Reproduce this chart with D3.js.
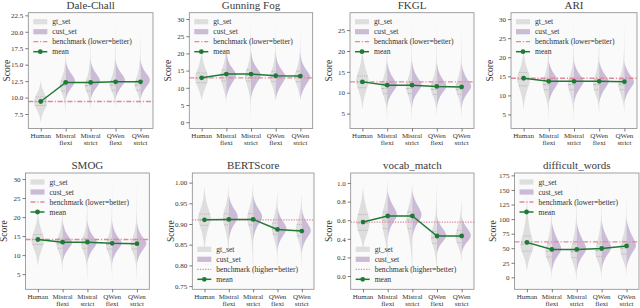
<!DOCTYPE html>
<html>
<head>
<meta charset="utf-8">
<script src="https://cdn.jsdelivr.net/npm/d3@7"></script>
<style>
  body { margin: 0; background: #fff; }
  svg text { font-family: "Liberation Serif", "Times New Roman", serif; font-weight: normal; fill: #333; }
</style>
</head>
<body>
<div id="chart"></div>
<script>
// ---- data ----
var metrics = ["Dale-Chall", "Gunning Fog", "FKGL", "ARI", "SMOG", "BERTScore", "vocab_match", "difficult_words"];
var categories = [["Human"], ["Mistral", "flexi"], ["Mistral", "strict"], ["QWen", "flexi"], ["QWen", "strict"]];

var meanValues = [
  [9.4, 12.3, 12.3, 12.4, 12.4],
  [12.9, 14.0, 14.0, 13.5, 13.4],
  [12.6, 11.8, 11.8, 11.5, 11.4],
  [14.5, 13.7, 13.7, 13.7, 13.6],
  [14.1, 13.4, 13.4, 13.1, 13.0],
  [0.910, 0.911, 0.911, 0.887, 0.883],
  [0.58, 0.645, 0.645, 0.43, 0.43],
  [60, 48, 48, 49.5, 54]
];
var benchmarkValues = [9.4, 12.9, 12.6, 14.5, 14.1, 0.910, 0.58, 61];
var benchmarkLabels = ["lower=better", "lower=better", "lower=better", "lower=better", "lower=better",
  "higher=better", "higher=better", "lower=better"];

var yTicks = [
  [7.5, 10, 12.5, 15, 17.5, 20, 22.5],
  [0, 5, 10, 15, 20, 25, 30],
  [5, 10, 15, 20, 25],
  [5, 10, 15, 20, 25, 30],
  [5, 10, 15, 20, 25, 30],
  [0.75, 0.80, 0.85, 0.90, 0.95, 1.00],
  [0.0, 0.2, 0.4, 0.6, 0.8, 1.0],
  [0, 25, 50, 75, 100, 125, 150, 175]
];
var tickFormats = [".1f", "d", "d", "d", "d", ".2f", ".1f", "d"];

// gt_set violin profiles: [score, half width in category units], bottom to top
var gtShapes = [
  [ // Dale-Chall
    [[6.1,0],[7.0,0.03],[8.0,0.12],[8.8,0.25],[9.4,0.28],[10.2,0.22],[11.0,0.1],[11.8,0.03],[12.6,0]],
    [[7.8,0],[9.0,0.03],[10.3,0.1],[11.2,0.22],[12.0,0.26],[12.8,0.18],[14.0,0.06],[15.5,0.02],[17.5,0.008],[19.0,0]],
    [[8.2,0],[9.2,0.03],[10.4,0.1],[11.3,0.22],[12.0,0.26],[12.8,0.17],[14.0,0.06],[16.0,0.02],[18.5,0.006],[20.5,0]],
    [[8.5,0],[9.5,0.03],[10.6,0.1],[11.4,0.22],[12.1,0.26],[12.9,0.17],[14.2,0.06],[16.0,0.02],[19.0,0.006],[22.1,0]],
    [[8.5,0],[9.5,0.03],[10.6,0.1],[11.4,0.22],[12.1,0.26],[12.9,0.17],[14.2,0.06],[16.0,0.02],[18.5,0.006],[21.0,0]]
  ],
  [ // Gunning Fog
    [[6.4,0],[8,0.04],[10,0.15],[12,0.26],[13,0.28],[14.5,0.22],[16.5,0.1],[18.5,0.04],[21,0]],
    [[5.2,0],[7.5,0.03],[10,0.12],[12.5,0.24],[13.8,0.26],[15.5,0.17],[17.5,0.07],[20,0.02],[23,0.008],[26.5,0]],
    [[-0.3,0],[3,0.005],[6,0.02],[9,0.08],[12,0.22],[13.8,0.26],[15.5,0.17],[17.5,0.07],[20,0.025],[24,0.008],[30.3,0]],
    [[6,0],[8,0.03],[10.5,0.13],[12.5,0.24],[13.5,0.26],[15,0.17],[17,0.07],[20,0.02],[25,0.006],[30,0]],
    [[6.4,0],[8,0.03],[10.5,0.13],[12.5,0.24],[13.4,0.26],[15,0.17],[17,0.07],[20,0.02],[24,0.006],[28.5,0]]
  ],
  [ // FKGL
    [[5.8,0],[8,0.03],[10,0.12],[12,0.24],[13,0.27],[14.5,0.2],[16.5,0.08],[18.5,0.03],[20.5,0]],
    [[2.7,0],[5,0.01],[7.5,0.05],[9.5,0.16],[11,0.26],[12,0.25],[13.5,0.15],[15.5,0.06],[18,0.02],[22,0]],
    [[2.7,0],[5,0.01],[7.5,0.05],[9.5,0.16],[11,0.26],[12,0.25],[13.5,0.15],[15.5,0.06],[18,0.02],[22,0.007],[27.5,0]],
    [[4.2,0],[6,0.02],[8,0.07],[9.5,0.17],[10.8,0.26],[12,0.24],[13.5,0.14],[15.5,0.05],[18,0.02],[22,0.006],[27.5,0]],
    [[3.5,0],[6,0.02],[8,0.07],[9.5,0.17],[10.8,0.26],[12,0.24],[13.5,0.14],[15.5,0.05],[18,0.02],[22,0.006],[27.9,0]]
  ],
  [ // ARI
    [[6,0],[8.5,0.03],[11,0.12],[13.5,0.25],[14.5,0.27],[16,0.2],[18,0.08],[20,0.03],[22,0]],
    [[2.7,0],[5.5,0.01],[8,0.05],[10.5,0.16],[12.5,0.26],[13.8,0.24],[15.5,0.14],[17.5,0.06],[20.5,0.02],[27,0]],
    [[3,0],[5.5,0.01],[8,0.05],[10.5,0.16],[12.5,0.26],[13.8,0.24],[15.5,0.14],[17.5,0.06],[20.5,0.02],[24,0.006],[30.3,0]],
    [[5,0],[7,0.02],[9,0.07],[10.8,0.17],[12.5,0.26],[13.8,0.24],[15.5,0.14],[17.5,0.06],[20.5,0.02],[24,0.006],[29,0]],
    [[5.5,0],[7,0.02],[9,0.07],[10.8,0.17],[12.5,0.26],[13.8,0.24],[15.5,0.14],[17.5,0.06],[20.5,0.02],[24,0.006],[30,0]]
  ],
  [ // SMOG
    [[7,0],[9.5,0.04],[12,0.18],[13.5,0.27],[14.5,0.26],[16,0.17],[18,0.07],[20,0.02],[22,0]],
    [[5,0],[7.5,0.02],[10,0.1],[11.8,0.22],[13,0.27],[14.3,0.22],[16,0.1],[18.5,0.03],[22,0.008],[27,0]],
    [[2.4,0],[5,0.01],[7.5,0.03],[10,0.1],[11.8,0.22],[13,0.27],[14.3,0.22],[16,0.1],[18.5,0.03],[23,0.006],[29,0]],
    [[3,0],[5.5,0.01],[8,0.04],[10,0.12],[11.6,0.23],[12.8,0.27],[14,0.21],[16,0.09],[18.5,0.03],[23,0.006],[30.2,0]],
    [[2.4,0],[5,0.01],[8,0.04],[10,0.12],[11.6,0.23],[12.8,0.27],[14,0.21],[16,0.09],[18.5,0.03],[23,0.006],[30,0]]
  ],
  [ // BERTScore
    [[0.83,0],[0.86,0.03],[0.885,0.12],[0.905,0.25],[0.915,0.28],[0.93,0.2],[0.95,0.08],[0.97,0.03],[0.99,0]],
    [[0.80,0],[0.84,0.02],[0.87,0.07],[0.895,0.18],[0.91,0.26],[0.925,0.23],[0.945,0.12],[0.965,0.04],[0.985,0.01],[1.0,0]],
    [[0.755,0],[0.80,0.01],[0.84,0.03],[0.87,0.08],[0.895,0.18],[0.91,0.26],[0.925,0.23],[0.945,0.12],[0.965,0.04],[0.99,0.01],[1.0105,0]],
    [[0.80,0],[0.83,0.02],[0.855,0.08],[0.875,0.2],[0.89,0.26],[0.905,0.22],[0.925,0.1],[0.95,0.03],[0.985,0]],
    [[0.79,0],[0.825,0.02],[0.85,0.08],[0.87,0.2],[0.885,0.26],[0.90,0.22],[0.92,0.1],[0.945,0.03],[0.975,0]]
  ],
  [ // vocab_match
    [[0.28,0],[0.38,0.05],[0.48,0.2],[0.56,0.28],[0.64,0.24],[0.72,0.14],[0.82,0.05],[0.95,0]],
    [[0.1,0],[0.25,0.02],[0.4,0.1],[0.52,0.22],[0.62,0.26],[0.72,0.18],[0.82,0.07],[0.92,0.02],[1.05,0]],
    [[-0.086,0],[0.1,0.01],[0.3,0.05],[0.45,0.15],[0.55,0.24],[0.63,0.26],[0.72,0.18],[0.82,0.07],[0.92,0.02],[1.02,0]],
    [[0.0,0],[0.15,0.02],[0.28,0.1],[0.36,0.22],[0.42,0.27],[0.5,0.2],[0.6,0.08],[0.75,0.02],[1.03,0]],
    [[0.15,0],[0.25,0.04],[0.32,0.14],[0.38,0.24],[0.43,0.27],[0.5,0.2],[0.6,0.08],[0.72,0.02],[0.85,0]]
  ],
  [ // difficult_words
    [[10,0],[25,0.04],[40,0.17],[52,0.28],[62,0.25],[75,0.15],[95,0.06],[115,0.02],[140,0]],
    [[-5,0],[10,0.02],[25,0.12],[35,0.24],[45,0.27],[58,0.2],[75,0.08],[100,0.02],[125,0.006],[150,0]],
    [[-11.4,0],[5,0.02],[20,0.1],[33,0.23],[44,0.27],[57,0.2],[75,0.08],[100,0.02],[135,0.005],[170,0]],
    [[-5,0],[10,0.02],[25,0.12],[36,0.24],[46,0.27],[58,0.2],[75,0.08],[100,0.02],[125,0.006],[150,0]],
    [[0,0],[15,0.02],[28,0.12],[40,0.24],[50,0.27],[62,0.2],[78,0.08],[100,0.02],[125,0.006],[145,0]]
  ]
];

// gt_set quartile lines [q1, median, q3]
var gtQuartiles = [
  [[8.8,9.4,10.1],[11.0,11.8,12.5],[11.0,11.8,12.5],[11.1,11.9,12.6],[11.1,11.9,12.6]],
  [[11.5,12.8,14.3],[12.0,13.6,15.2],[12.0,13.6,15.2],[11.8,13.2,14.8],[11.8,13.2,14.8]],
  [[11.2,12.6,14.0],[9.8,11.0,12.3],[9.8,11.0,12.3],[9.6,10.8,12.1],[9.6,10.8,12.1]],
  [[12.5,14.3,16.0],[11.5,12.8,14.2],[11.5,12.8,14.2],[11.5,12.8,14.2],[11.5,12.8,14.2]],
  [[12.8,14.1,15.4],[11.8,13.0,14.3],[11.8,13.0,14.3],[11.6,12.8,14.0],[11.6,12.8,14.0]],
  [[0.897,0.91,0.924],[0.898,0.912,0.925],[0.898,0.912,0.925],[0.875,0.888,0.902],[0.871,0.885,0.899]],
  [[0.49,0.57,0.66],[0.51,0.6,0.69],[0.51,0.6,0.69],[0.35,0.41,0.48],[0.36,0.42,0.49]],
  [[45,57,71],[35,45,58],[34,44,57],[36,46,58],[40,50,62]]
];

// cust_set half violins for the four model columns
var custShapes = [
  [
    [[9.6,0],[10.6,0.06],[11.5,0.22],[12.4,0.42],[13.2,0.32],[14.1,0.12],[15,0.03],[15.8,0]],
    [[9.6,0],[10.6,0.06],[11.5,0.22],[12.4,0.42],[13.2,0.32],[14.1,0.12],[15,0.03],[15.8,0]],
    [[9.7,0],[10.7,0.06],[11.6,0.22],[12.5,0.42],[13.3,0.32],[14.2,0.12],[15.1,0.03],[15.9,0]],
    [[9.7,0],[10.7,0.06],[11.6,0.22],[12.5,0.42],[13.3,0.32],[14.2,0.12],[15.1,0.03],[15.9,0]]
  ],
  [
    [[7,0],[9,0.05],[11,0.2],[13,0.38],[14,0.42],[15.5,0.26],[17.5,0.08],[19.5,0.02],[21,0]],
    [[7,0],[9,0.05],[11,0.2],[13,0.38],[14,0.42],[15.5,0.26],[17.5,0.08],[19.5,0.02],[21,0]],
    [[6.5,0],[8.5,0.05],[10.5,0.2],[12.5,0.38],[13.5,0.42],[15,0.26],[17,0.08],[19,0.02],[20.5,0]],
    [[6.5,0],[8.5,0.05],[10.5,0.2],[12.5,0.38],[13.4,0.42],[15,0.26],[17,0.08],[19,0.02],[20.5,0]]
  ],
  [
    [[6.5,0],[8.5,0.05],[10,0.2],[11.6,0.42],[12.6,0.36],[14,0.18],[15.5,0.06],[17.5,0]],
    [[6.5,0],[8.5,0.05],[10,0.2],[11.6,0.42],[12.6,0.36],[14,0.18],[15.5,0.06],[17.5,0]],
    [[6.3,0],[8.3,0.05],[9.8,0.2],[11.3,0.42],[12.3,0.36],[13.7,0.18],[15.2,0.06],[17.2,0]],
    [[6.2,0],[8.2,0.05],[9.7,0.2],[11.2,0.42],[12.2,0.36],[13.6,0.18],[15.1,0.06],[17.1,0]]
  ],
  [
    [[8,0],[10,0.06],[12,0.25],[13.5,0.42],[14.5,0.34],[16,0.16],[17.5,0.05],[19,0]],
    [[8,0],[10,0.06],[12,0.25],[13.5,0.42],[14.5,0.34],[16,0.16],[17.5,0.05],[19,0]],
    [[8,0],[10,0.06],[12,0.25],[13.5,0.42],[14.5,0.34],[16,0.16],[17.5,0.05],[19,0]],
    [[8,0],[10,0.06],[12,0.25],[13.4,0.42],[14.4,0.34],[15.9,0.16],[17.4,0.05],[18.9,0]]
  ],
  [
    [[8,0],[10,0.06],[11.8,0.25],[13.2,0.42],[14.2,0.34],[15.5,0.16],[17.2,0.05],[19,0]],
    [[8,0],[10,0.06],[11.8,0.25],[13.2,0.42],[14.2,0.34],[15.5,0.16],[17.2,0.05],[19,0]],
    [[7.8,0],[9.8,0.06],[11.6,0.25],[13,0.42],[14,0.34],[15.3,0.16],[17,0.05],[18.8,0]],
    [[7.7,0],[9.7,0.06],[11.5,0.25],[12.9,0.42],[13.9,0.34],[15.2,0.16],[16.9,0.05],[18.7,0]]
  ],
  [
    [[0.86,0],[0.88,0.05],[0.90,0.22],[0.915,0.42],[0.93,0.3],[0.945,0.12],[0.96,0.03],[0.97,0]],
    [[0.86,0],[0.88,0.05],[0.90,0.22],[0.915,0.42],[0.93,0.3],[0.945,0.12],[0.96,0.03],[0.97,0]],
    [[0.835,0],[0.855,0.05],[0.872,0.22],[0.887,0.42],[0.90,0.3],[0.915,0.12],[0.93,0.03],[0.942,0]],
    [[0.83,0],[0.85,0.05],[0.868,0.22],[0.883,0.42],[0.896,0.3],[0.911,0.12],[0.926,0.03],[0.938,0]]
  ],
  [
    [[0.4,0],[0.5,0.06],[0.58,0.24],[0.65,0.42],[0.72,0.3],[0.8,0.12],[0.87,0.03],[0.92,0]],
    [[0.4,0],[0.5,0.06],[0.58,0.24],[0.65,0.42],[0.72,0.3],[0.8,0.12],[0.87,0.03],[0.92,0]],
    [[0.24,0],[0.31,0.06],[0.37,0.24],[0.43,0.42],[0.49,0.3],[0.55,0.12],[0.6,0.03],[0.64,0]],
    [[0.24,0],[0.31,0.06],[0.37,0.24],[0.43,0.42],[0.49,0.3],[0.55,0.12],[0.6,0.03],[0.64,0]]
  ],
  [
    [[10,0],[25,0.06],[38,0.25],[48,0.42],[58,0.32],[72,0.14],[85,0.04],[95,0]],
    [[10,0],[25,0.06],[38,0.25],[48,0.42],[58,0.32],[72,0.14],[85,0.04],[95,0]],
    [[12,0],[27,0.06],[40,0.25],[50,0.42],[60,0.32],[74,0.14],[87,0.04],[97,0]],
    [[15,0],[30,0.06],[44,0.25],[54,0.42],[64,0.32],[78,0.14],[91,0.04],[101,0]]
  ]
];

// ---- layout ----
var W = 640, H = 308;
var frames = [ // [left, right] of each plot area
  [28.3, 153], [189.3, 312.7], [350, 474], [511, 637],
  [25.5, 149.3], [192.3, 314], [350.7, 474], [514.5, 639]
];
var rowTop = [12.7, 173], rowBottom = [128.5, 289.3];
var legendAtBottom = [false, false, false, false, false, true, true, false];

var svg = d3.select("#chart").append("svg")
  .attr("width", W).attr("height", H);

var gtColor = "#d4d4d4", custColor = "#b7a0c8";
var meanColor = "#1f7a35", benchColor = "#e3889c";

function widthAt(profile, v) { // linear lookup of a profile's half width
  for (var i = 1; i < profile.length; i++) {
    if (v <= profile[i][0]) {
      var a = profile[i - 1], b = profile[i];
      var t = (v - a[0]) / (b[0] - a[0]);
      return a[1] + t * (b[1] - a[1]);
    }
  }
  return 0;
}

metrics.forEach(function (metric, m) {
  var row = m < 4 ? 0 : 1;
  var left = frames[m][0], right = frames[m][1];
  var top = rowTop[row], bottom = rowBottom[row];
  var pw = right - left, ph = bottom - top;

  var g = svg.append("g").attr("transform", "translate(" + left + "," + top + ")");

  var x = d3.scaleLinear().domain([-0.5, 4.5]).range([0, pw]);
  var unit = x(1) - x(0);

  // y limits like matplotlib autoscale: data extent plus 5% margins
  var allVals = [];
  gtShapes[m].forEach(function (p) { p.forEach(function (d) { allVals.push(d[0]); }); });
  custShapes[m].forEach(function (p) { p.forEach(function (d) { allVals.push(d[0]); }); });
  var ext = d3.extent(allVals), pad = (ext[1] - ext[0]) * 0.05;
  var y = d3.scaleLinear().domain([ext[0] - pad, ext[1] + pad]).range([ph, 0]);

  g.append("rect").attr("width", pw).attr("height", ph).attr("fill", "#fafafa");

  // gt_set violins (Human full, others left half)
  gtShapes[m].forEach(function (profile, c) {
    var cx = x(c);
    var area = d3.area()
      .curve(d3.curveBasis)
      .y(function (d) { return y(d[0]); })
      .x0(function (d) { return c == 0 ? cx + d[1] * unit : cx; })
      .x1(function (d) { return cx - d[1] * unit; });
    g.append("path").datum(profile).attr("d", area)
      .attr("fill", gtColor).attr("fill-opacity", 0.75);

    gtQuartiles[m][c].forEach(function (q, qi) {
      var w = widthAt(profile, q) * unit * 0.9;
      g.append("line")
        .attr("x1", cx - w).attr("x2", c == 0 ? cx + w : cx)
        .attr("y1", y(q)).attr("y2", y(q))
        .attr("stroke", "#a8a8a8").attr("stroke-width", 0.7)
        .attr("stroke-dasharray", qi == 1 ? "3,1.2" : "1.2,1");
    });
  });

  // cust_set violins (right halves)
  custShapes[m].forEach(function (profile, k) {
    var cx = x(k + 1);
    var area = d3.area()
      .curve(d3.curveBasis)
      .y(function (d) { return y(d[0]); })
      .x0(cx)
      .x1(function (d) { return cx + d[1] * unit; });
    g.append("path").datum(profile).attr("d", area)
      .attr("fill", custColor).attr("fill-opacity", 0.7);
  });

  // benchmark
  var dash = benchmarkLabels[m] == "lower=better" ? "5,1.8,1.2,1.8" : "1.3,1.3";
  g.append("line")
    .attr("x1", 0).attr("x2", pw)
    .attr("y1", y(benchmarkValues[m])).attr("y2", y(benchmarkValues[m]))
    .attr("stroke", benchColor).attr("stroke-width", 1.3)
    .attr("stroke-dasharray", dash);

  // mean line
  var line = d3.line()
    .x(function (d, i) { return x(i); })
    .y(function (d) { return y(d); });
  g.append("path").datum(meanValues[m]).attr("d", line)
    .attr("fill", "none").attr("stroke", meanColor).attr("stroke-width", 1.5);
  g.selectAll(".pt").data(meanValues[m]).enter().append("circle")
    .attr("cx", function (d, i) { return x(i); })
    .attr("cy", function (d) { return y(d); })
    .attr("r", 2.4).attr("fill", meanColor);

  // frame
  g.append("rect").attr("width", pw).attr("height", ph)
    .attr("fill", "none").attr("stroke", "#8a8a8a").attr("stroke-width", 0.8);

  // y axis
  var yAxis = d3.axisLeft(y).tickValues(yTicks[m]).tickFormat(d3.format(tickFormats[m]))
    .tickSize(3).tickPadding(2);
  var ya = g.append("g").call(yAxis);
  ya.select(".domain").remove();
  ya.selectAll("line").attr("stroke", "#444").attr("stroke-width", 0.7);
  ya.selectAll("text").style("font-size", "7px");

  // x axis
  var xAxis = d3.axisBottom(x).tickValues([0, 1, 2, 3, 4]).tickFormat("").tickSize(3);
  var xa = g.append("g").attr("transform", "translate(0," + ph + ")").call(xAxis);
  xa.select(".domain").remove();
  xa.selectAll("line").attr("stroke", "#444").attr("stroke-width", 0.7);
  categories.forEach(function (lines, c) {
    var t = g.append("text").attr("x", x(c)).attr("y", ph + 9.6)
      .attr("text-anchor", "middle").style("font-size", "7px");
    lines.forEach(function (s, li) {
      t.append("tspan").attr("x", x(c)).attr("dy", li == 0 ? 0 : 7.2).text(s);
    });
  });

  // title and y label
  g.append("text").attr("x", pw / 2).attr("y", -4)
    .attr("text-anchor", "middle").style("font-size", "11px").style("fill", "#3a3a3a").text(metric);
  g.append("text")
    .attr("transform", "translate(" + (-18.5) + "," + (ph / 2) + ") rotate(-90)")
    .attr("text-anchor", "middle").style("font-size", "9.5px").text("Score");

  // legend
  var ly = legendAtBottom[m] ? ph - 40 : 9;
  var lg = g.append("g").attr("transform", "translate(5," + ly + ")");
  var items = ["gt_set", "cust_set", "benchmark (" + benchmarkLabels[m] + ")", "mean"];
  items.forEach(function (label, i) {
    var iy = i * 10;
    if (i == 0 || i == 1) {
      lg.append("rect").attr("x", 0).attr("y", iy - 2.6).attr("width", 14).attr("height", 5.2)
        .attr("fill", i == 0 ? gtColor : custColor).attr("fill-opacity", i == 0 ? 0.75 : 0.7);
    } else if (i == 2) {
      lg.append("line").attr("x1", 0).attr("x2", 14).attr("y1", iy).attr("y2", iy)
        .attr("stroke", benchColor).attr("stroke-width", 1.3)
        .attr("stroke-dasharray", dash);
    } else {
      lg.append("line").attr("x1", 0).attr("x2", 14).attr("y1", iy).attr("y2", iy)
        .attr("stroke", meanColor).attr("stroke-width", 1.5);
      lg.append("circle").attr("cx", 7).attr("cy", iy).attr("r", 2.4).attr("fill", meanColor);
    }
    lg.append("text").attr("x", 19).attr("y", iy + 2.6).style("font-size", "7.6px").text(label);
  });
});
</script>
</body>
</html>
